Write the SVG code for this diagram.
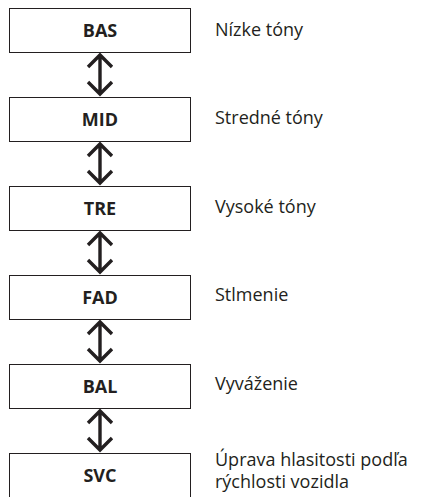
<svg xmlns="http://www.w3.org/2000/svg" width="422" height="497" viewBox="0 0 422 497">
<style>
.box{fill:#fff;stroke:#231f20;stroke-width:1}
.t{font-family:"Open Sans","Noto Sans",sans-serif;font-size:18px;font-weight:bold;fill:#231f20;text-anchor:middle}
.l{font-family:"Open Sans","Noto Sans",sans-serif;font-size:18px;fill:#231f20}
.a{fill:none;stroke:#231f20;stroke-width:3.4}
</style>
<rect width="422" height="497" fill="#fff"/>
<g id="bas"><rect class="box" x="9.5" y="8.5" width="181" height="44"/><text class="t" x="100" y="37">BAS</text></g>
<g id="mid"><rect class="box" x="9.5" y="97.5" width="181" height="44"/><text class="t" x="100" y="126">MID</text></g>
<g id="tre"><rect class="box" x="9.5" y="186.5" width="181" height="44"/><text class="t" x="100" y="215">TRE</text></g>
<g id="fad"><rect class="box" x="9.5" y="275.5" width="181" height="44"/><text class="t" x="100" y="304">FAD</text></g>
<g id="bal"><rect class="box" x="9.5" y="364.5" width="181" height="44"/><text class="t" x="100" y="393">BAL</text></g>
<g id="svc"><rect class="box" x="9.5" y="453.5" width="181" height="50"/><text class="t" x="100" y="482">SVC</text></g>
<g id="labels">
<text class="l" x="215" y="36">Nízke tóny</text>
<text class="l" x="215" y="124">Stredné tóny</text>
<text class="l" x="215" y="213">Vysoké tóny</text>
<text class="l" x="215" y="301">Stlmenie</text>
<text class="l" x="215" y="390">Vyváženie</text>
<text class="l" x="215" y="466">Úprava hlasitosti podľa</text>
<text class="l" x="215" y="488">rýchlosti vozidla</text>
</g>
<g id="connectors">
<path class="a" d="M100 55V94M88 67L100 55L112 67M88 82L100 94L112 82"/>
<path class="a" d="M100 144V183M88 156L100 144L112 156M88 171L100 183L112 171"/>
<path class="a" d="M100 233V272M88 245L100 233L112 245M88 260L100 272L112 260"/>
<path class="a" d="M100 322V361M88 334L100 322L112 334M88 349L100 361L112 349"/>
<path class="a" d="M100 411V450M88 423L100 411L112 423M88 438L100 450L112 438"/>
</g>
</svg>
